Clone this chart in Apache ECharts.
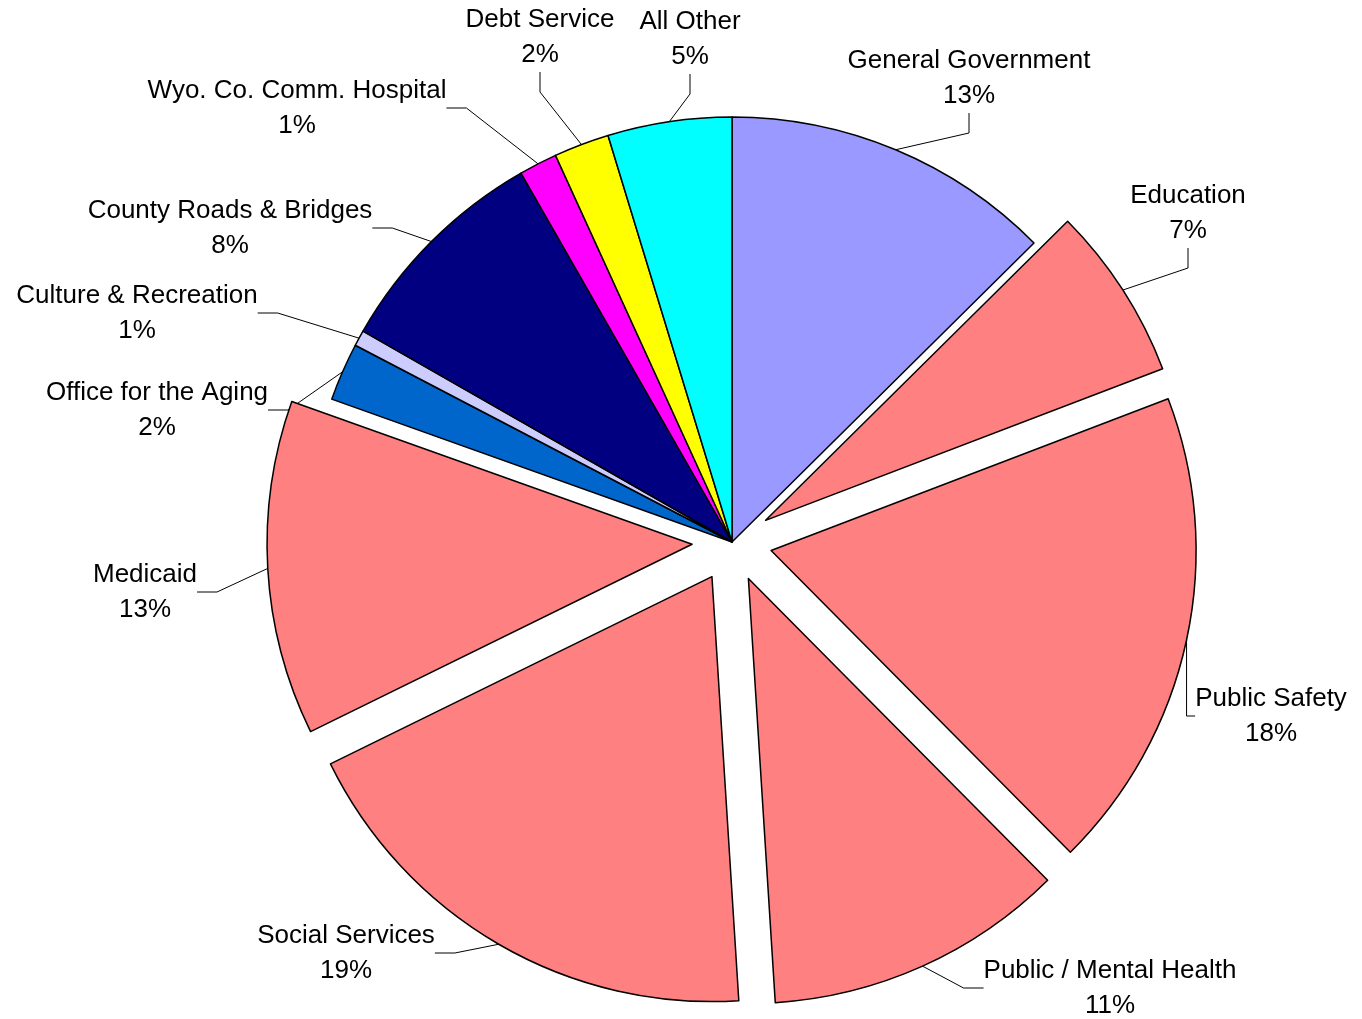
<!DOCTYPE html>
<html>
<head>
<meta charset="utf-8">
<title>Expenditures pie</title>
<script src="https://cdn.jsdelivr.net/npm/echarts@6/dist/echarts.min.js"></script>
<style>
  html, body { margin: 0; padding: 0; background: #fff; }
  #chart { width: 1362px; height: 1019px; }
</style>
</head>
<body>
<div id="chart"></div>
<script>
// slices, clockwise from 12 o'clock
var categories = ["General Government", "Education", "Public Safety", "Public / Mental Health",
  "Social Services", "Medicaid", "Office for the Aging", "Culture & Recreation",
  "County Roads & Bridges", "Wyo. Co. Comm. Hospital", "Debt Service", "All Other"];
var values = [12.55, 6.6, 18.33, 11.4, 18.7, 12.69, 2.2, 0.6, 8.45, 1.45, 2.1, 4.7];
// which slices are pulled out
var exploded = [false, true, true, true, true, true, false, false, false, false, false, false];

// 颜色
var colors = ["#9999FF", "#FF8080", "#FF8080", "#FF8080", "#FF8080", "#FF8080",
  "#0066CC", "#CCCCFF", "#000080", "#FF00FF", "#FFFF00", "#00FFFF"];
// layout only: label centres and pull-out distance per slice
var labelPos = [[969, 78], [1188, 213], [1271, 716], [1110, 988], [346, 953], [145, 592],
  [157, 410], [137, 313], [230, 228], [297, 108], [540, 37], [690, 39]];
var pullOut = [0, 43, 44, 34, 40, 37, 0, 0, 0, 0, 0, 0];

(function () {
  var myChart = echarts.init(document.getElementById("chart"));

  var R = 425, OFF = 40;

  var labelStyle = {
    show: true,
    position: "outside",
    color: "#000",
    fontFamily: "Liberation Sans, Arial, sans-serif",
    fontSize: 26,
    lineHeight: 35,
    align: "center",
    formatter: function (p) {
      return p.name + "\n" + Math.round(p.percent) + "%";
    }
  };
  var lineStyle = {
    show: true,
    length: 20,
    length2: 20,
    lineStyle: { color: "#000", width: 1 }
  };
  function placeLabel(params) {
    var pos = labelPos[params.dataIndex];
    return { x: pos[0], y: pos[1], align: "center", verticalAlign: "middle" };
  }

  // 实际扇形 (labels only for slices that stay in place)
  var pieData = categories.map(function (name, i) {
    return {
      name: name,
      value: values[i],
      selected: exploded[i],
      selectedOffset: pullOut[i] || OFF,
      itemStyle: { color: colors[i] },
      select: { itemStyle: { color: colors[i], borderColor: "#000", borderWidth: 1.5 } },
      label: { show: !exploded[i] },
      labelLine: { show: !exploded[i] }
    };
  });

  // 透明扇形, carries labels of the pulled-out slices
  var ghostData = categories.map(function (name, i) {
    return {
      name: name,
      value: values[i],
      label: { show: exploded[i] },
      labelLine: { show: exploded[i] }
    };
  });

  var option = {
    backgroundColor: "#fff",
    animation: false,
    series: [{
      type: "pie",
      center: [732, 542],
      radius: [0, R],
      startAngle: 90,
      clockwise: true,
      selectedMode: "multiple",
      selectedOffset: OFF,
      avoidLabelOverlap: false,
      itemStyle: { borderColor: "#000", borderWidth: 1.5 },
      emphasis: { disabled: true },
      label: labelStyle,
      labelLine: lineStyle,
      labelLayout: placeLabel,
      data: pieData
    }, {
      type: "pie",
      center: [732, 542],
      radius: [0, R + OFF],
      startAngle: 90,
      clockwise: true,
      silent: true,
      avoidLabelOverlap: false,
      itemStyle: { color: "rgba(0,0,0,0)", borderWidth: 0 },
      emphasis: { disabled: true },
      label: labelStyle,
      labelLine: lineStyle,
      labelLayout: placeLabel,
      data: ghostData
    }]
  };

  myChart.setOption(option);

  window.addEventListener("resize", function () {
    myChart.resize();
  });
})();
</script>
</body>
</html>
